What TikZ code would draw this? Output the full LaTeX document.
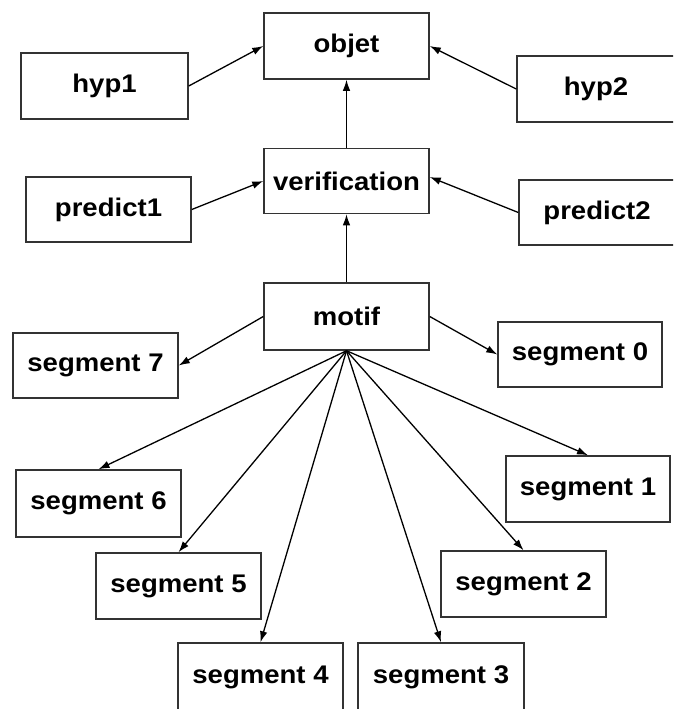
\documentclass[tikz,border=0pt]{standalone}
\usepackage{fontspec}
\setmainfont{Liberation Sans}[FakeStretch=1.08]
\usetikzlibrary{arrows.meta}
\begin{document}
\begin{tikzpicture}[x=1pt,y=-1pt,
  box/.style={draw=black!80, line width=1.5pt, fill=white, inner sep=0pt,
    minimum width=165pt, minimum height=66pt,
    font=\fontsize{25.5}{28}\selectfont\bfseries},
  arr/.style={draw=black, line width=1.3pt, -{Latex[length=11pt,width=7.5pt]}}]
\useasboundingbox (0,0) rectangle (673,709);
\clip (0,0) rectangle (673,709);

% upper levels
\node[box] (objet) at (346.5,46) {objet};
\node[box, minimum width=167pt] (hyp1) at (104.5,86) {hyp1};
\node[box, minimum width=158pt] (hyp2) at (596,89) {hyp2};
\node[box, minimum height=65pt] (verif) at (346.5,181) {verification};
\node[box, minimum height=65pt] (pred1) at (108.5,209.5) {predict1};
\node[box, minimum width=156pt, minimum height=65pt] (pred2) at (597,212.5) {predict2};
\node[box, minimum height=67pt] (motif) at (346.5,316.5) {motif};

% segments
\node[box, minimum height=65pt] (s7) at (95.5,365.5) {segment 7};
\node[box, minimum width=164pt, minimum height=65pt] (s0) at (580,354.5) {segment 0};
\node[box, minimum height=67pt] (s6) at (98.5,503.5) {segment 6};
\node[box, minimum width=164pt] (s1) at (588,489) {segment 1};
\node[box] (s5) at (178.5,586) {segment 5};
\node[box] (s2) at (523.5,584) {segment 2};
\node[box, minimum height=68pt] (s4) at (260.5,677) {segment 4};
\node[box, minimum width=166pt, minimum height=68pt] (s3) at (441,677) {segment 3};

% connectors
\draw[arr] (hyp1.east) -- (objet.west);
\draw[arr] (hyp2.west) -- (objet.east);
\draw[arr] (verif.north) -- (objet.south);
\draw[arr] (pred1.east) -- (verif.west);
\draw[arr] (pred2.west) -- ([yshift=4pt]verif.east);
\draw[arr] (motif.north) -- (verif.south);
\draw[arr] (motif.west) -- (s7.east);
\draw[arr] (motif.east) -- (s0.west);
\foreach \s in {s6,s5,s4,s3,s2,s1}
  \draw[arr] (motif.south) -- (\s.north);
\end{tikzpicture}
\end{document}
